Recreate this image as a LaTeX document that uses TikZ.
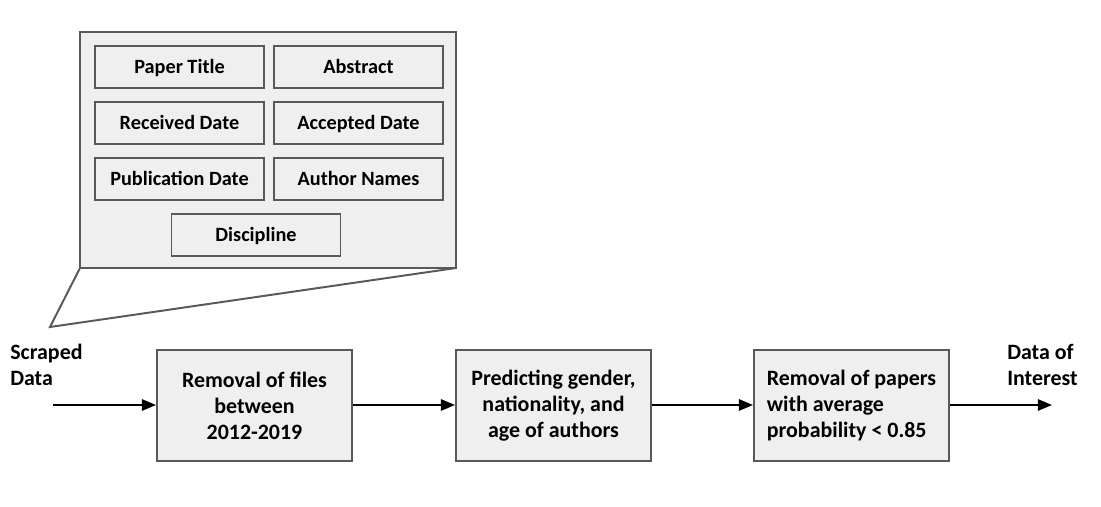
\documentclass[tikz,border=0pt]{standalone}
\usepackage{fontspec}
\setmainfont{Carlito}
\usepackage{xcolor}
\usetikzlibrary{arrows.meta,calc}
\definecolor{boxfill}{HTML}{EFEFEF}
\definecolor{boxline}{HTML}{595959}
\tikzset{
	fieldbox/.style={draw=boxline, fill=boxfill, line width=1.4pt,
			minimum width=169*0.025cm, minimum height=42*0.025cm, inner sep=0pt,
			text height=11pt, text depth=2pt,
			font=\fontsize{14.4}{17}\selectfont\bfseries},
	stagebox/.style={draw=boxline, fill=boxfill, line width=1.4pt,
			minimum width=195*0.025cm, minimum height=111*0.025cm, inner sep=0pt,
			align=center, font=\fontsize{15.6}{18.4}\selectfont\bfseries},
	endtext/.style={align=left, anchor=north west, inner sep=0pt,
			font=\fontsize{15.6}{18.4}\selectfont\bfseries},
	flow/.style={-{Triangle[length=10pt, width=8pt]}, line width=1.5pt}
}

\begin{document}
\begin{tikzpicture}[x=0.025cm, y=-0.025cm]
        \useasboundingbox (0, 0) rectangle (1101, 507);
        % zoom panel
        \coordinate (tip) at (50, 327);
        \draw[draw=boxline, fill=boxfill, line width=1.4pt] (80, 32) rectangle (456, 268);
        \draw[boxline, line width=1.4pt] (80, 268) -- (tip) -- (456, 268);
        \node[fieldbox] (title) at (179.5, 67) {Paper Title};
        \node[fieldbox] (abstract) at (358.5, 67) {Abstract};
        \node[fieldbox] (received) at (179.5, 123) {Received Date};
        \node[fieldbox] (accepted) at (358.5, 123) {Accepted Date};
        \node[fieldbox] (published) at (179.5, 179) {Publication Date};
        \node[fieldbox] (authors) at (358.5, 179) {Author Names};
        \node[fieldbox] (discipline) at (256, 235) {Discipline};
        % pipeline
        \node[stagebox] (removefiles) at (254.5, 405.5) {Removal of files\\between\\2012-2019};
        \node[stagebox] (predict) at (553.5, 405.5) {Predicting gender,\\nationality, and\\age of authors};
        \node[stagebox, align=left] (removepapers) at (851.5, 405.5) {Removal of papers\\with average\\probability < 0.85};
        \node[endtext] (scraped) at (10, 344) {Scraped\\Data};
        \node[endtext] (interest) at (1007, 344) {Data of\\Interest};
        \coordinate (in) at (53, 405);
        \coordinate (out) at (1052, 405);
        \draw[flow] (in) -- (removefiles.west |- in);
        \draw[flow] (removefiles.east |- in) -- (predict.west |- in);
        \draw[flow] (predict.east |- in) -- (removepapers.west |- in);
        \draw[flow] (removepapers.east |- in) -- (out);
    \end{tikzpicture}
\end{document}
